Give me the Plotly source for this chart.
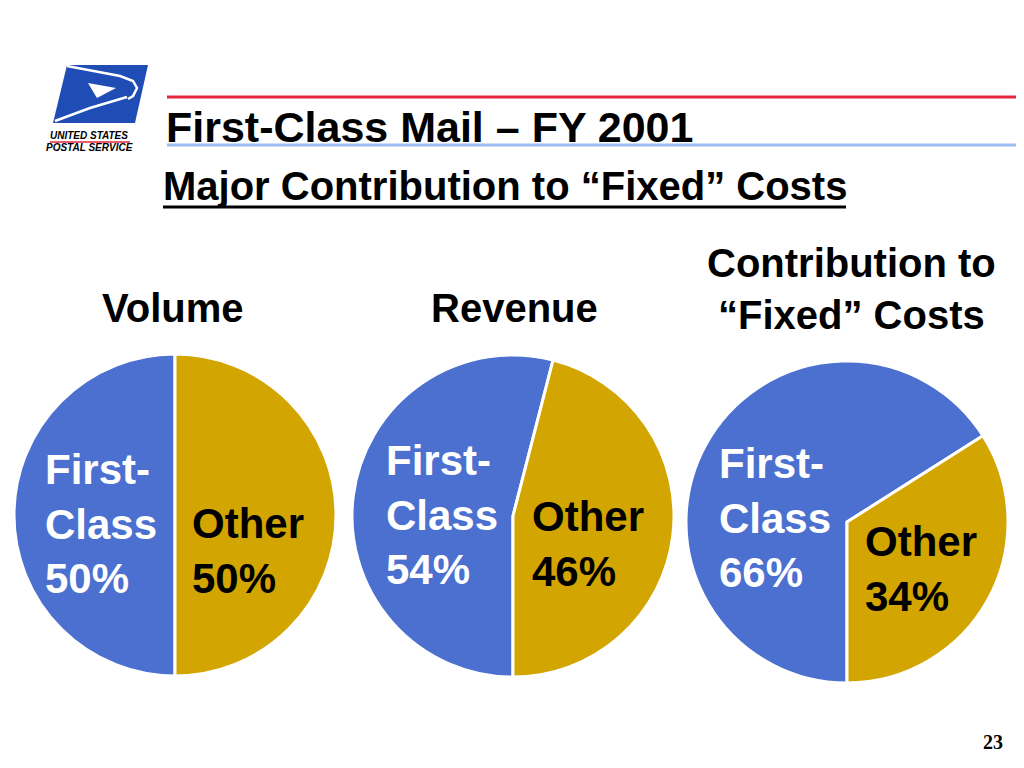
import plotly.graph_objects as go

# 数値データ
chart_titles = ["Volume", "Revenue", "Contribution to<br>“Fixed” Costs"]
categories = ["First-Class", "Other"]
first_class = [50, 54, 66]
other = [50, 46, 34]
page_no = "23"

W, H = 1024, 768
OFF = 8  # ページ余白の分だけずらす
BLUE = "#4b70cf"
GOLD = "#d2a500"
FONT = "Arial, Liberation Sans, sans-serif"


def px(x, y):
    # ピクセル座標 -> paper座標
    return (x - OFF) / W, 1 - (y - OFF) / H


# 円グラフの配置 (中心x, 中心y, 半径)
pies = [(175, 515, 161), (513, 516, 161), (847, 522, 161)]
title_pos = [(173, 308), (514, 308), (851, 289)]
fc_label_pos = [(43, 524), (384, 515), (717, 518)]
other_label_pos = [(190, 551), (530, 544), (863, 569)]

fig = go.Figure()
annotations = []

for i, (cx, cy, r) in enumerate(pies):
    x0, y1 = px(cx - r, cy - r)
    x1, y0 = px(cx + r, cy + r)
    fig.add_trace(go.Pie(
        labels=categories,
        values=[first_class[i], other[i]],
        sort=False,
        direction="clockwise",
        rotation=180,
        marker=dict(colors=[BLUE, GOLD], line=dict(color="white", width=3)),
        textinfo="none",
        hoverinfo="label+percent",
        domain=dict(x=[x0, x1], y=[y0, y1]),
    ))

    tx, ty = px(*title_pos[i])
    annotations.append(dict(
        x=tx, y=ty, xref="paper", yref="paper", showarrow=False,
        text=f"<b>{chart_titles[i]}</b>", xanchor="center", yanchor="middle",
        font=dict(family=FONT, size=40, color="black"),
    ))

    fx, fy = px(*fc_label_pos[i])
    annotations.append(dict(
        x=fx, y=fy, xref="paper", yref="paper", showarrow=False, align="left",
        text=f"<b>First-<br>Class<br>{first_class[i]}%</b>",
        xanchor="left", yanchor="middle",
        font=dict(family=FONT, size=42, color="white"),
    ))

    ox, oy = px(*other_label_pos[i])
    annotations.append(dict(
        x=ox, y=oy, xref="paper", yref="paper", showarrow=False, align="left",
        text=f"<b>{categories[1]}<br>{other[i]}%</b>",
        xanchor="left", yanchor="middle",
        font=dict(family=FONT, size=42, color="black"),
    ))

# タイトルとサブタイトル
annotations.append(dict(
    x=px(164, 0)[0], y=px(0, 127)[1], xref="paper", yref="paper", showarrow=False,
    text="<b>First-Class Mail – FY 2001</b>", xanchor="left", yanchor="middle",
    font=dict(family=FONT, size=43, color="black"),
))
annotations.append(dict(
    x=px(161, 0)[0], y=px(0, 186)[1], xref="paper", yref="paper", showarrow=False,
    text="<b>Major Contribution to “Fixed” Costs</b>", xanchor="left", yanchor="middle",
    font=dict(family=FONT, size=40, color="black"),
))

# ロゴの文字
annotations.append(dict(
    x=px(89, 0)[0], y=px(0, 135)[1], xref="paper", yref="paper", showarrow=False,
    text="<b><i>UNITED STATES</i></b>", xanchor="center", yanchor="middle",
    font=dict(family=FONT, size=10, color="black"),
))
annotations.append(dict(
    x=px(89, 0)[0], y=px(0, 148)[1], xref="paper", yref="paper", showarrow=False,
    text="<b><i>POSTAL SERVICE</i></b>", xanchor="center", yanchor="middle",
    font=dict(family=FONT, size=10, color="black"),
))

# ページ番号
annotations.append(dict(
    x=px(993, 0)[0], y=px(0, 742)[1], xref="paper", yref="paper", showarrow=False,
    text=f"<b>{page_no}</b>", xanchor="center", yanchor="middle",
    font=dict(family="Liberation Serif, Times New Roman, serif", size=20, color="black"),
))


def line_shape(xa, ya, xb, yb, color, width):
    (x0, y0), (x1, y1) = px(xa, ya), px(xb, yb)
    return dict(type="line", xref="paper", yref="paper", x0=x0, y0=y0, x1=x1, y1=y1,
                line=dict(color=color, width=width))


def path_shape(points, fill=None, color=None, width=0, closed=True):
    pts = [px(x, y) for x, y in points]
    d = "M " + " L ".join(f"{x:.5f},{y:.5f}" for x, y in pts)
    if closed:
        d += " Z"
    s = dict(type="path", xref="paper", yref="paper", path=d,
             line=dict(width=width, color=color or "rgba(0,0,0,0)"))
    if fill:
        s["fillcolor"] = fill
    return s


shapes = [
    line_shape(167, 97, 1032, 97, "#e3263e", 3),
    line_shape(167, 145, 1032, 145, "#9dbcf2", 3),
    line_shape(163, 207, 846, 207, "black", 3),
    line_shape(50, 142, 130, 142, "#e3263e", 1.5),
    # ロゴ (青い平行四辺形とワシ)
    path_shape([(67, 65), (148, 65), (135, 123), (53, 123)], fill="#1f4cb5"),
    path_shape([(67, 66), (120, 76), (133, 81), (137, 88), (133, 96), (128, 99)],
               color="white", width=2.5, closed=False),
    path_shape([(88, 83), (116, 88), (97, 98)], fill="white"),
    path_shape([(55, 121), (90, 108), (127, 97)], color="white", width=2.5, closed=False),
]

fig.update_layout(
    width=W, height=H,
    margin=dict(l=0, r=0, t=0, b=0),
    paper_bgcolor="white",
    plot_bgcolor="white",
    showlegend=False,
    annotations=annotations,
    shapes=shapes,
)

fig.write_html("out.html")
